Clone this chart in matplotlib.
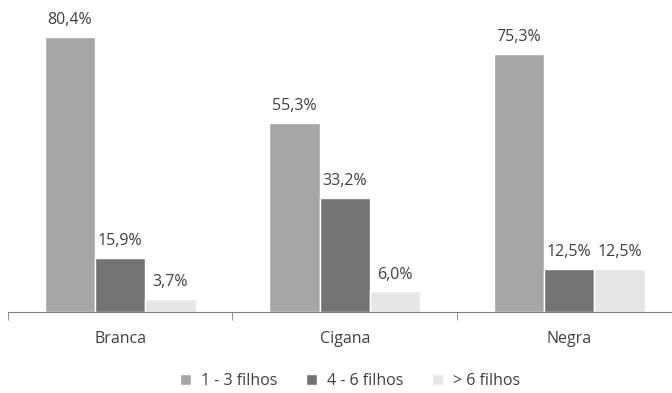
import numpy as np
import matplotlib
matplotlib.use("Agg")
import matplotlib.pyplot as plt

# number of children per household, by ethnic group (%)
grupos = ["Branca", "Cigana", "Negra"]
series = ["1 - 3 filhos", "4 - 6 filhos", "> 6 filhos"]
f1_3 = [80.4, 55.3, 75.3]
f4_6 = [15.9, 33.2, 12.5]
f6_mais = [3.7, 6.0, 12.5]

cores = ["#a6a6a6", "#737373", "#e6e6e6"]
texto = "#404040"

plt.rcParams["font.family"] = ["Open Sans", "DejaVu Sans"]

fig = plt.figure(figsize=(6.72, 3.93), dpi=100)
ax = fig.add_axes([8/672, 81/393, 673.5/672, 308/393])

x = np.arange(len(grupos))
w = 0.224
for i, (vals, nome) in enumerate(zip([f1_3, f4_6, f6_mais], series)):
    pos = x + (i - 1) * w
    barras = ax.bar(pos, vals, w, color=cores[i], edgecolor="white",
                    linewidth=1.0, label=nome)
    for b, v in zip(barras, vals):
        ax.text(b.get_x() + b.get_width()/2, v + 2.6, ("%.1f%%" % v).replace(".", ","),
                ha="center", va="bottom", fontsize=11.5, color=texto)

ax.set_xlim(-0.5, 2.5)
ax.set_ylim(0, 90)
for s in ["top", "right", "left"]:
    ax.spines[s].set_visible(False)
ax.spines["bottom"].set_color("#808080")
ax.set_yticks([])
ax.set_xticks(x)
ax.set_xticklabels(grupos, fontsize=11.5, color=texto)
ax.tick_params(axis="x", which="major", length=0, pad=14)
ax.set_xticks([-0.5, 0.5, 1.5, 2.5], minor=True)
ax.tick_params(axis="x", which="minor", length=6, color="#808080")

fig.legend(loc="center", bbox_to_anchor=(350/672, 1 - 381/393), ncol=3,
           frameon=False, fontsize=11.5, handlelength=0.7, handleheight=0.7,
           handletextpad=0.6, columnspacing=1.8, labelcolor=texto)

fig.savefig("out.png", dpi=100)
